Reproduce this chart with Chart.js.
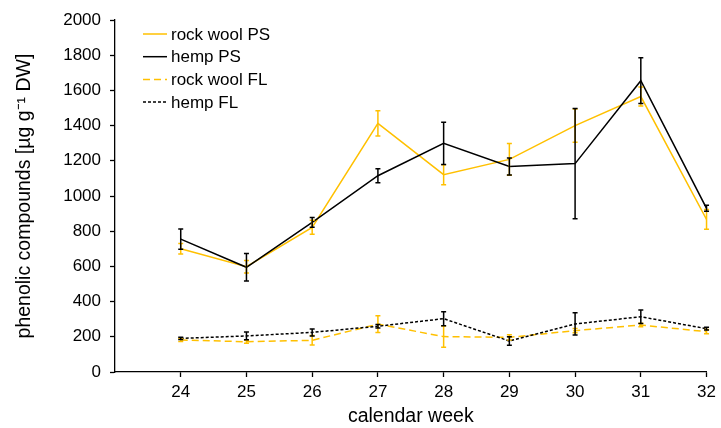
<!DOCTYPE html>
<html>
<head>
<meta charset="utf-8">
<script src="https://cdn.jsdelivr.net/npm/chart.js@4/dist/chart.umd.min.js"></script>
<style>
  html, body { margin: 0; padding: 0; background: #fff; }
  #wrap { width: 721px; height: 428px; }
</style>
</head>
<body>
<div id="wrap"><canvas id="phenolic-chart" width="721" height="428"></canvas></div>
<script>
const weeks = [24, 25, 26, 27, 28, 29, 30, 31, 32];
const yTicks = [0, 200, 400, 600, 800, 1000, 1200, 1400, 1600, 1800, 2000];

const rockWoolPS = [700, 598, 822, 1413, 1121, 1208, 1400, 1565, 867];
const rockWoolPSErr = [30, 35, 40, 72, 57, 90, 95, 54, 56];
const hempPS = [755, 595, 850, 1115, 1299, 1168, 1184, 1655, 930];
const hempPSErr = [57, 78, 28, 40, 120, 48, 313, 130, 17];
const rockWoolFL = [182, 172, 180, 272, 201, 197, 235, 267, 229];
const rockWoolFLErr = [8, 8, 27, 48, 60, 15, 12, 10, 12];
const hempFL = [191, 205, 225, 260, 303, 176, 273, 314, 246];
const hempFLErr = [6, 22, 20, 10, 40, 24, 63, 38, 8];

const orange = "#ffc000";
const black = "#000000";

Chart.defaults.font.family = "'Liberation Sans', Arial, sans-serif";
Chart.defaults.color = "#000";

function points(values) {
  return weeks.map((w, i) => ({ x: w, y: values[i] }));
}

// vertical error bars with small caps, drawn from the scales
const errorBars = {
  id: "errorBars",
  afterDatasetsDraw(chart) {
    const ctx = chart.ctx;
    const yScale = chart.scales.y;
    chart.data.datasets.forEach((ds, i) => {
      const meta = chart.getDatasetMeta(i);
      ctx.save();
      ctx.strokeStyle = ds.borderColor;
      ctx.lineWidth = 1.5;
      ctx.setLineDash([]);
      meta.data.forEach((pt, j) => {
        const v = ds.data[j].y;
        const e = ds.errors[j];
        const top = yScale.getPixelForValue(v + e);
        const bottom = yScale.getPixelForValue(v - e);
        ctx.beginPath();
        ctx.moveTo(pt.x, top);
        ctx.lineTo(pt.x, bottom);
        ctx.moveTo(pt.x - 2.5, top);
        ctx.lineTo(pt.x + 2.5, top);
        ctx.moveTo(pt.x - 2.5, bottom);
        ctx.lineTo(pt.x + 2.5, bottom);
        ctx.stroke();
      });
      ctx.restore();
    });
  },
};

// legend inside the plot, top left
const insideLegend = {
  id: "insideLegend",
  afterDraw(chart) {
    const ctx = chart.ctx;
    const x0 = 143;
    const y0 = 34;
    const rowGap = 22.7;
    ctx.save();
    ctx.font = "17px 'Liberation Sans', Arial, sans-serif";
    ctx.textBaseline = "middle";
    ctx.fillStyle = "#000";
    chart.data.datasets.forEach((ds, i) => {
      const y = y0 + i * rowGap;
      ctx.strokeStyle = ds.borderColor;
      ctx.lineWidth = 1.5;
      ctx.setLineDash(ds.borderDash || []);
      ctx.beginPath();
      ctx.moveTo(x0, y);
      ctx.lineTo(x0 + 24, y);
      ctx.stroke();
      ctx.fillText(ds.label, x0 + 28, y + 1);
    });
    ctx.restore();
  },
};

const chartElement = document.getElementById("phenolic-chart").getContext("2d");
const phenolicChart = new Chart(chartElement, {
  type: "line",
  data: {
    datasets: [
      {
        label: "rock wool PS",
        data: points(rockWoolPS),
        errors: rockWoolPSErr,
        borderColor: orange,
        borderWidth: 1.5,
        order: 2,
      },
      {
        label: "hemp PS",
        data: points(hempPS),
        errors: hempPSErr,
        borderColor: black,
        borderWidth: 1.5,
        order: 1,
      },
      {
        label: "rock wool FL",
        data: points(rockWoolFL),
        errors: rockWoolFLErr,
        borderColor: orange,
        borderWidth: 1.5,
        borderDash: [7, 4],
        order: 2,
      },
      {
        label: "hemp FL",
        data: points(hempFL),
        errors: hempFLErr,
        borderColor: black,
        borderWidth: 1.5,
        borderDash: [3, 2],
        order: 1,
      },
    ],
  },
  options: {
    responsive: false,
    animation: false,
    events: [],
    elements: {
      point: { radius: 0 },
      line: { tension: 0, fill: false },
    },
    layout: {
      padding: { top: 20, right: 9, bottom: 0, left: 0 },
    },
    plugins: {
      legend: { display: false },
      tooltip: { enabled: false },
    },
    scales: {
      x: {
        type: "linear",
        min: 23,
        max: 32,
        afterBuildTicks(scale) {
          scale.ticks = [23].concat(weeks).map((v) => ({ value: v }));
        },
        afterFit(scale) {
          scale.height = 56;
        },
        ticks: {
          font: { size: 17 },
          padding: 5,
          maxRotation: 0,
          callback: (v) => (v === 23 ? "" : String(v)),
        },
        grid: {
          drawOnChartArea: false,
          tickLength: 5,
          tickWidth: 1.3,
          tickColor: (c) => (c.tick && c.tick.value === 23 ? "rgba(0,0,0,0)" : "#000"),
        },
        border: { color: "#000", width: 1.3 },
        title: {
          display: true,
          text: "calendar week",
          font: { size: 19.5 },
          padding: { top: 0, bottom: 0 },
        },
      },
      y: {
        min: 0,
        max: 2000,
        afterBuildTicks(scale) {
          scale.ticks = yTicks.map((v) => ({ value: v }));
        },
        afterFit(scale) {
          scale.width = 115;
        },
        ticks: {
          font: { size: 17 },
          padding: 9,
          callback: (v) => String(v),
        },
        grid: {
          drawOnChartArea: false,
          tickLength: 5,
          tickWidth: 1.3,
          tickColor: "#000",
        },
        border: { color: "#000", width: 1.3 },
        title: {
          display: true,
          text: "phenolic compounds [µg g⁻¹ DW]",
          font: { size: 19.5 },
          padding: { top: 13, bottom: 0 },
        },
      },
    },
  },
  plugins: [errorBars, insideLegend],
});
</script>
</body>
</html>
